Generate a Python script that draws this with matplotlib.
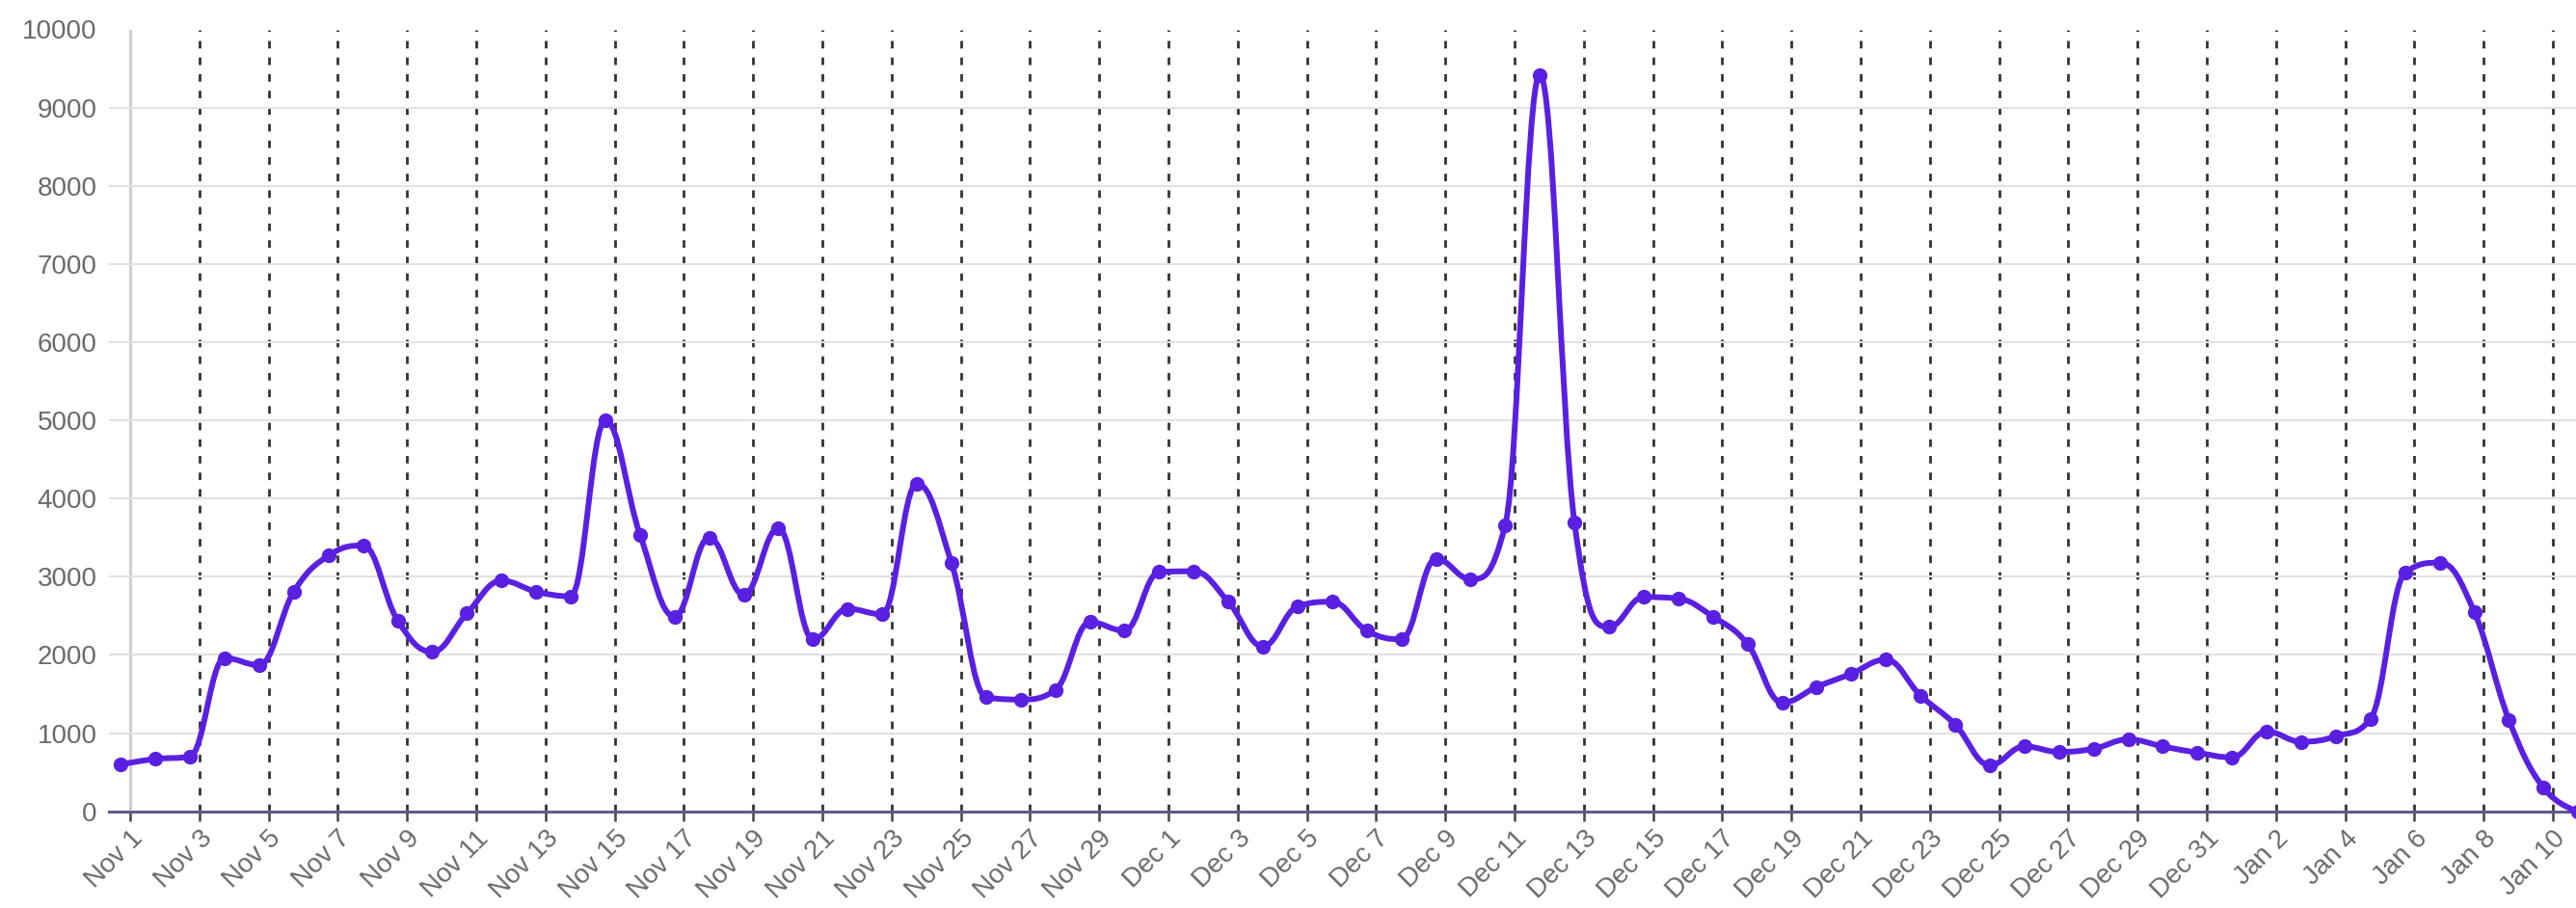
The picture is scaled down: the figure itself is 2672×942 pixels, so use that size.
import matplotlib
matplotlib.use("Agg")
import matplotlib.pyplot as plt
from matplotlib.path import Path
from matplotlib.patches import PathPatch
import numpy as np
import pandas as pd

# ---------------- data ----------------
start_date = "2023-11-01"
values = [
    600, 670, 700, 1960, 1870, 2810, 3270, 3400, 2440, 2040,      # Nov 1-10
    2530, 2950, 2810, 2750, 5000, 3540, 2490, 3500, 2770, 3620,   # Nov 11-20
    2200, 2590, 2520, 4190, 3180, 1460, 1430, 1550, 2420, 2310,   # Nov 21-30
    3060, 3070, 2680, 2110, 2620, 2680, 2310, 2200, 3230, 2970,   # Dec 1-10
    3660, 9420, 3700, 2360, 2740, 2720, 2490, 2140, 1390, 1590,   # Dec 11-20
    1760, 1940, 1480, 1110, 590, 830, 760, 800, 920, 830,         # Dec 21-30
    750, 690, 1020, 890, 960, 1180, 3050, 3180, 2550, 1170,       # Dec 31 - Jan 9
    300, 0,                                                       # Jan 10-11
]
dates = pd.date_range(start_date, periods=len(values), freq="D")

tick_labels = [
    "Nov 1", "Nov 3", "Nov 5", "Nov 7", "Nov 9", "Nov 11", "Nov 13", "Nov 15",
    "Nov 17", "Nov 19", "Nov 21", "Nov 23", "Nov 25", "Nov 27", "Nov 29",
    "Dec 1", "Dec 3", "Dec 5", "Dec 7", "Dec 9", "Dec 11", "Dec 13", "Dec 15",
    "Dec 17", "Dec 19", "Dec 21", "Dec 23", "Dec 25", "Dec 27", "Dec 29",
    "Dec 31", "Jan 2", "Jan 4", "Jan 6", "Jan 8", "Jan 10",
]
y_ticks = [0, 1000, 2000, 3000, 4000, 5000, 6000, 7000, 8000, 9000, 10000]

# ---------------- style ----------------
LINE_COLOR = "#5a20e2"
POINT_SHIFT = -0.27          # points sit slightly before the day gridline
plt.rcParams["font.family"] = ["Liberation Sans", "DejaVu Sans"]

day_index = np.array([(d - dates[0]).days for d in dates], dtype=float)
x = day_index + POINT_SHIFT
y = np.array(values, dtype=float)
tick_pos = np.arange(0, 2 * len(tick_labels), 2)


def spline_path(xs, ys, smoothing=1.5):
    """Highcharts-like spline through the points (cubic Bezier segments)."""
    n = len(xs)
    denom = smoothing + 1
    right_cont = [None] * n
    verts = [(xs[0], ys[0])]
    codes = [Path.MOVETO]
    for i in range(1, n):
        px, py = xs[i], ys[i]
        lx, ly = xs[i - 1], ys[i - 1]
        left_x, left_y = px, py
        if i < n - 1:
            nx, ny = xs[i + 1], ys[i + 1]
            left_x = (smoothing * px + lx) / denom
            left_y = (smoothing * py + ly) / denom
            rx = (smoothing * px + nx) / denom
            ry = (smoothing * py + ny) / denom
            corr = 0.0
            if rx != left_x:
                corr = ((ry - left_y) * (rx - px)) / (rx - left_x) + py - ry
            left_y += corr
            ry += corr
            if left_y > ly and left_y > py:
                left_y = max(ly, py)
                ry = 2 * py - left_y
            elif left_y < ly and left_y < py:
                left_y = min(ly, py)
                ry = 2 * py - left_y
            if ry > ny and ry > py:
                ry = max(ny, py)
                left_y = 2 * py - ry
            elif ry < ny and ry < py:
                ry = min(ny, py)
                left_y = 2 * py - ry
            right_cont[i] = (rx, ry)
        c1 = right_cont[i - 1] if right_cont[i - 1] is not None else (lx, ly)
        verts += [c1, (left_x, left_y), (px, py)]
        codes += [Path.CURVE4, Path.CURVE4, Path.CURVE4]
    return Path(verts, codes)


W, H = 2672, 942
fig = plt.figure(figsize=(W / 100, H / 100), dpi=100)
left_px, right_px, top_px, bottom_px = 113, 2672, 30.5, 841.7
ax = fig.add_axes([left_px / W, 1 - bottom_px / H,
                   (right_px - left_px) / W, (bottom_px - top_px) / H])

px_per_day = 35.9
first_tick_px = 135
ax.set_xlim((left_px - first_tick_px) / px_per_day,
            (right_px - first_tick_px) / px_per_day)
ax.set_ylim(0, 10000)

# grid
ax.set_yticks(y_ticks)
ax.set_xticks(tick_pos)
ax.set_xticklabels(tick_labels)
ax.grid(axis="y", color="#e2e2e2", linewidth=1.5)
ax.grid(axis="x", color="#333333", linewidth=2.0, linestyle=(0, (2.8, 3.4)))
ax.set_axisbelow(True)
fig.canvas.draw()
gl = ax.xaxis.get_gridlines()
gl[0].set_linestyle("-")
gl[0].set_color("#cfcfd8")
gl[0].set_linewidth(2.2)

for s in ["top", "right", "left"]:
    ax.spines[s].set_visible(False)
ax.spines["bottom"].set_color("#5d5b8c")
ax.spines["bottom"].set_linewidth(2.2)

ax.tick_params(axis="y", length=0, pad=9, labelsize=20, labelcolor="#6a6a6a")
ax.tick_params(axis="x", length=7, width=1.8, color="#444444", pad=4,
               labelsize=20, labelcolor="#6a6a6a")
for lab in ax.get_xticklabels():
    lab.set_rotation(45)
    lab.set_ha("right")
    lab.set_va("top")
    lab.set_rotation_mode("anchor")

# series
ax.add_patch(PathPatch(spline_path(x, y), facecolor="none", edgecolor=LINE_COLOR,
                       linewidth=4.3, capstyle="round", joinstyle="round",
                       zorder=3, clip_on=False))
ax.plot(x, y, "o", color=LINE_COLOR, markersize=10, zorder=4, clip_on=False)

fig.savefig("out.png", dpi=100, facecolor="white")
